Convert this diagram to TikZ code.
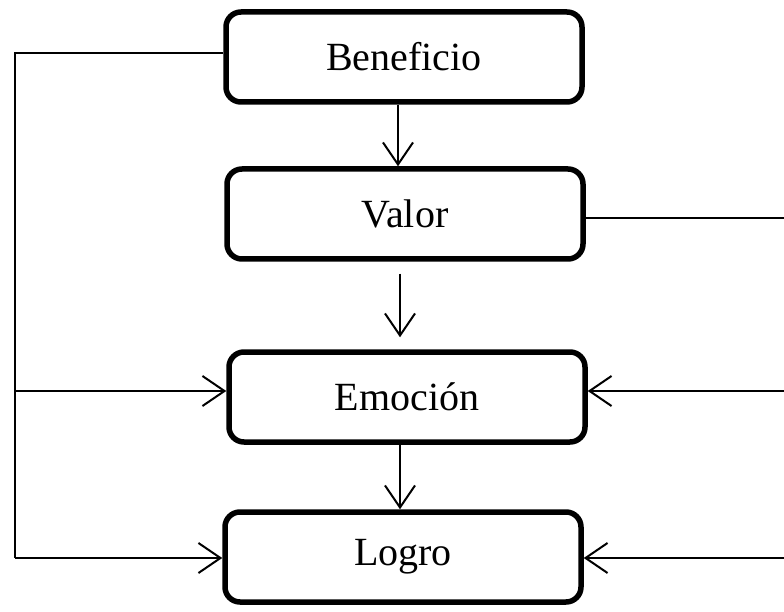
\documentclass[tikz,border=0pt]{standalone}
\usepackage{fontspec}
\setmainfont{Liberation Serif}
\usetikzlibrary{arrows.meta}
\begin{document}
\begin{tikzpicture}[x=1pt,y=-1pt]
  \tikzstyle{every node}=[font=\fontsize{40}{48}\selectfont]
  \tikzstyle{stage}=[draw,line width=5.5pt,rounded corners=15pt,minimum width=356pt,minimum height=90pt]
  \tikzstyle{link}=[line width=2pt,-{Straight Barb[length=22pt,width=30pt,line width=2pt]}]
  \useasboundingbox (0,0) rectangle (784,612);
  \node [stage] (benef) at (404,57)  {Beneficio};
  \node [stage] (valor) at (405,214) {Valor};
  \node [stage] (emo)   at (407,397) {Emoción};
  \node [stage] (logro) at (403,557) {Logro};
  % left feedback
  \coordinate (lt) at (15,53);
  \coordinate (lb) at (15,558);
  \draw [line width=2pt] (benef.west |- lt) -- (lt) -- (lb);
  \draw [link] (lb) -- (logro.west |- lb);
  \draw [link] (15,391) -- (emo.west |- 0,391);
  % right feedback
  \coordinate (rt) at (788,218);
  \coordinate (rb) at (788,558);
  \draw [line width=2pt] (valor.east |- rt) -- (rt) -- (rb);
  \draw [link] (rb) -- (logro.east |- rb);
  \draw [link] (788,391) -- (emo.east |- 0,391);
  % chain
  \draw [link] ([xshift=-6pt]benef.south) -- ([xshift=-6pt]benef.south |- valor.north);
  \draw [link,shorten <=12pt,shorten >=12pt] ([xshift=-5pt]valor.south) -- ([xshift=-5pt]valor.south |- emo.north);
  \draw [link] ([xshift=-7pt]emo.south) -- ([xshift=-7pt]emo.south |- logro.north);
\end{tikzpicture}
\end{document}
